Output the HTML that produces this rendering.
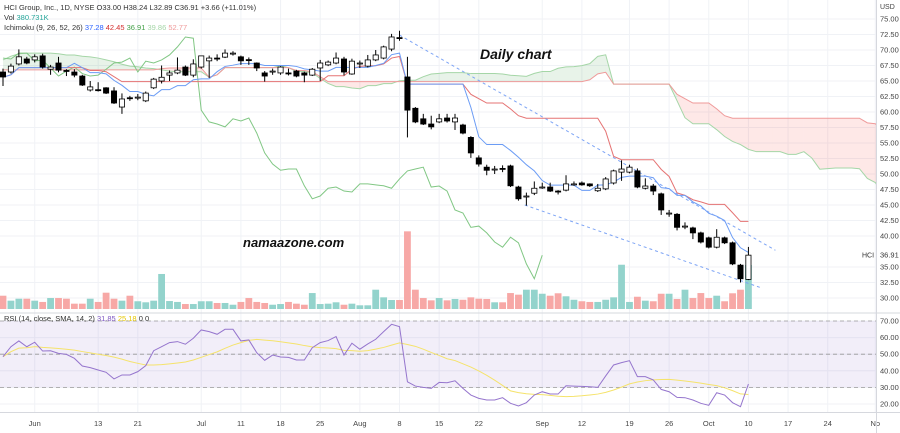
<!DOCTYPE html>
<html><head><meta charset="utf-8">
<style>
html,body{margin:0;padding:0;background:#fff;}
svg{display:block;font-family:"Liberation Sans",sans-serif;}
</style></head>
<body>
<svg id="chart" width="900" height="433" viewBox="0 0 900 433" xmlns="http://www.w3.org/2000/svg">
<defs><clipPath id="plotClip"><rect x="0" y="0" width="876" height="312"/></clipPath>
<clipPath id="rsiClip"><rect x="0" y="314" width="876" height="98"/></clipPath></defs>
<g id="grid"></g>
<g id="cloud" clip-path="url(#plotClip)"></g>
<g id="vol"></g>
<g id="lines" clip-path="url(#plotClip)"></g>
<g id="trend" clip-path="url(#plotClip)"></g>
<g id="candles"></g>
<g id="rsi" clip-path="url(#rsiClip)"></g>
<g id="axes"></g>
<text x="480" y="59" font-size="14" font-style="italic" font-weight="bold" fill="#111">Daily chart</text>
<text x="243" y="247" font-size="13" font-style="italic" font-weight="bold" fill="#111">namaazone.com</text>
<g font-size="7.5">
<text x="4" y="10" fill="#333">HCI Group, Inc., 1D, NYSE  O33.00  H38.24  L32.89  C36.91  +3.66 (+11.01%)</text>
<text x="4" y="20" fill="#333">Vol <tspan fill="#26a69a">380.731K</tspan></text>
<text x="4" y="30" fill="#333">Ichimoku (9, 26, 52, 26) <tspan fill="#2962ff">37.28</tspan> <tspan fill="#d32f2f">42.45</tspan> <tspan fill="#43a047">36.91</tspan> <tspan fill="#a5d6a7">39.86</tspan> <tspan fill="#ef9a9a">52.77</tspan></text>
<text x="4" y="321" fill="#333">RSI (14, close, SMA, 14, 2) <tspan fill="#7e57c2">31.85</tspan> <tspan fill="#e5c600">25.18</tspan> 0 0</text>
</g>
</svg>
<script>
const opens=[66.45,66.45,67.75,68.55,68.4,69.05,66.9,67.9,66.7,66.45,65.8,63.55,63.6,63.9,63.4,60.8,62.3,62.4,61.8,63.9,65,65.95,66.3,67.25,65.95,67.25,68.25,68.7,68.85,69.5,68.9,68.45,67.9,66.3,66.6,66.3,66.3,66.6,66.3,65.95,67.1,67.6,67.9,68.55,66.13,67.9,67.4,68.4,68.7,70.15,72,65.65,60.6,58.9,58.06,58.4,59.03,58.4,57.9,55.9,52.6,51.1,50.8,50.9,51.3,47.9,46.45,46.9,47.9,47.9,47.25,47.4,48.4,48.55,48.4,47.3,47.6,48.55,50.3,50.3,50.5,47.7,48.06,46.8,43.7,43.5,41.6,41.3,40.5,39.7,38.2,39.7,38.9,35.3,33.0];
const highs=[67,67.8,70.1,68.9,69.3,69.4,67.6,68.9,66.9,66.9,66.0,65.0,64.8,64.0,64.0,63.0,62.6,62.9,63.3,65.5,67.5,66.7,68.8,67.5,68.5,69.1,69.1,69.3,70.1,69.8,69.1,68.8,68.0,66.6,67,67.4,67.0,66.8,66.5,67.1,68.4,68.3,69.6,68.9,68.6,68.3,69.2,70.0,70.7,72.6,73.1,68.9,60.8,59.7,59.4,59.7,59.7,59.7,58.1,56.1,53.0,51.5,51.3,51.4,51.5,48.1,47.0,48.8,48.6,48.6,47.4,49.8,48.8,48.8,48.5,48.4,49.5,50.7,52.2,51.5,50.9,49.3,48.4,47.0,44.2,43.7,42.2,41.5,40.7,39.9,41.1,39.9,39.1,35.5,38.24];
const lows=[64.2,66.2,67.5,67.7,68.0,67,66.0,66.4,65.8,65.6,64.2,63.3,63.3,62.9,61.3,59.7,61.8,61.9,61.6,63.7,64.6,65.0,66.1,65.8,65.6,67.0,65.5,68.2,68.7,69.1,67.6,67.6,66.6,64.9,66,66.0,65.9,65.6,64.8,65.8,65.0,67.4,67.7,65.9,66,67.1,67.2,68.2,68.5,69.8,71.5,55.9,58.2,57.9,57.2,58.2,58.3,57.1,56.4,52.6,51.2,49.8,50.0,50.3,47.9,45.7,44.9,46.6,47.6,47.1,46.7,47.2,48.1,48.1,47.9,47.1,47.4,48.3,48.9,50.1,47.7,47.5,46.6,43.4,43.1,40.9,41.1,39.5,38.8,38.0,38.0,38.7,35.3,32.5,32.89];
const closes=[65.65,67.4,68.9,67.9,68.9,67.25,67.25,66.75,66.6,65.95,64.35,64.05,63.5,63.05,61.45,62.1,62.2,62.4,63.05,65.3,65.6,66.3,66.75,65.95,67.75,69.05,68.7,68.55,69.5,69.5,68.25,68.35,67.1,65.8,66.6,67.25,66.2,65.8,65.95,66.9,67.9,68.05,68.7,66.45,68.2,67.9,68.4,69.2,70.5,72.1,71.9,60.3,58.4,58.06,57.6,58.9,58.55,59.03,56.6,53.4,51.6,50.6,50.8,50.8,48.1,46.0,46.45,47.7,47.9,47.25,47.1,48.4,48.4,48.25,48.1,47.7,49.2,50.5,50.8,51.1,47.9,48.06,47.25,44.2,43.7,41.4,41.6,40.5,39.03,38.2,39.8,38.9,35.5,33.1,36.91];
const volumesK=[115,72,89,89,72,61,95,95,89,46,46,89,61,141,89,72,115,67,58,72,303,69,61,43,43,67,67,52,52,37,61,95,61,52,37,43,61,46,37,138,43,46,58,37,46,32,32,167,101,78,78,672,167,95,75,95,75,87,80,101,89,87,58,58,138,124,167,167,132,115,136,110,80,67,61,61,80,101,383,61,106,72,67,132,132,87,167,95,138,95,115,67,136,167,380.7];
const rsiVals=[48.5,54.5,58,54.5,57.2,51.9,52.1,50.5,49.9,47.5,42.9,41.9,40.5,39.1,35.1,37.5,37.5,39.5,43.1,52.1,54.5,57,57.6,56,59.6,64.6,63.6,62,65,65,58,58.6,50.9,46.3,49.5,48.3,48.1,46.5,46.5,53.9,57,58.2,60.6,49.5,56.6,53,56.2,59,63.6,68,66.6,33.4,30.8,30,29.4,33,32.8,34,29.4,25.4,23.4,22.4,22.4,23.8,20.4,18.8,20.8,25.4,27.4,26,26,31,30.8,30.6,30.4,30,36.9,43.5,44.9,46.1,36.5,36.5,34.5,28.8,27.4,24,23.8,22.4,20.4,19.2,26.8,25.4,20.8,18.4,32];
const earlySpanA=[68.4,69.0,69.4,69.5,69.5,69.5,69.5,69.4,69.2,69.2,69.0,68.9,68.7,68.4,68.1,67.7,67.4,67.3,67.1,67.0,66.8,66.6,66.5,66.5,66.5,66.5];
const earlySpanB=[66.8,66.8,66.8,66.8,66.8,66.8,66.8,66.8,66.8,66.8,66.8,66.8,66.8,66.8,66.8,66.8,66.8,66.8,66.8,66.8,67.0,67.1,67.1,67.1,67.1,67.1];
const priceTicks=[30,32.5,35,40,42.5,45,47.5,50,52.5,55,57.5,60,62.5,65,67.5,70,72.5,75];
const rsiTicks=[20,30,40,50,60,70];
const dateTickIdx=[4,12,17,25,30,35,40,45,50,55,60,68,73,79,84,89,94,99,104,110];
const dateTickLabels=["Jun","13","21","Jul","11","18","25","Aug","8","15","22","Sep","12","19","26","Oct","10","17","24","No"];
const trendUpper=[[50,72.4],[97.4,37.7]];
const trendLower=[[65.8,45.0],[95.7,31.6]];

const NS="http://www.w3.org/2000/svg";
const X=i=>3+i*7.93;
const YP=p=>19+(75-p)*6.2;
const YR=r=>321+(70-r)*1.66;
const YV=v=>309-v*(44/380.7);
function mk(tag,attrs,parent){const e=document.createElementNS(NS,tag);for(const k in attrs)e.setAttribute(k,attrs[k]);document.getElementById(parent).appendChild(e);return e;}
const N=closes.length;

priceTicks.forEach(p=>{const l=mk('line',{x1:0,x2:876,y1:YP(p),y2:YP(p),stroke:'#f0f2f6','stroke-width':1},'grid');


const t=mk('text',{x:880,y:YP(p)+2.5,'font-size':7.5,fill:'#444'},'axes');t.textContent=p.toFixed(2);

});
rsiTicks.forEach(r=>{const l=mk('line',{x1:0,x2:876,y1:YR(r),y2:YR(r),stroke:'#f0f2f6','stroke-width':1},'grid');


const t=mk('text',{x:880,y:YR(r)+2.5,'font-size':7.5,fill:'#444'},'axes');t.textContent=r.toFixed(2);

});
dateTickIdx.forEach((d,k)=>{const l=mk('line',{x1:X(d),x2:X(d),y1:0,y2:412,stroke:'#f0f2f6','stroke-width':1},'grid');


const t=mk('text',{x:X(d),y:426,'font-size':7.5,fill:'#444','text-anchor':'middle'},'axes');t.textContent=dateTickLabels[k];

});
let ax=mk('line',{x1:876.5,x2:876.5,y1:0,y2:433,stroke:'#d6d8de'},'axes');


ax=mk('line',{x1:0,x2:900,y1:313,y2:313,stroke:'#d6d8de'},'axes');


ax=mk('line',{x1:0,x2:900,y1:412.5,y2:412.5,stroke:'#d6d8de'},'axes');


let u=mk('text',{x:880,y:9,'font-size':7,fill:'#444'},'axes');u.textContent='USD';


u=mk('text',{x:862,y:YP(closes[N-1])+2.5,'font-size':7,fill:'#333'},'axes');u.textContent='HCI';


u=mk('text',{x:880,y:YP(closes[N-1])+2.5,'font-size':7.5,fill:'#333'},'axes');u.textContent=closes[N-1].toFixed(2);



function hl(a,b){let h=-1e9,l=1e9;for(let j=Math.max(0,a);j<=b;j++){h=Math.max(h,highs[j]);l=Math.min(l,lows[j]);}return (h+l)/2;}
const tenkan=[],kijun=[];
for(let i=0;i<N;i++){tenkan.push(hl(i-8,i));kijun.push(hl(i-25,i));}
const spanA=[],spanB=[];
for(let i=0;i<N+26;i++){if(i<26){spanA.push(earlySpanA[i]);spanB.push(earlySpanB[i]);}else{const t=i-26;spanA.push((tenkan[t]+kijun[t])/2);spanB.push(hl(t-51,t));}}
for(let i=0;i<spanA.length-1;i++){
 const up=spanA[i]>=spanB[i];
 const poly=mk('polygon',{points:`${X(i)},${YP(spanA[i])} ${X(i+1)},${YP(spanA[i+1])} ${X(i+1)},${YP(spanB[i+1])} ${X(i)},${YP(spanB[i])}`,fill:up?'rgba(67,160,71,0.12)':'rgba(244,67,54,0.12)'},'cloud');
 
 
}
function pl(vals,offset,color,name){let pts=[];vals.forEach((v,i)=>{const xi=i+offset;if(xi>=0)pts.push(X(xi)+','+YP(v));});
const p=mk('polyline',{points:pts.join(' '),fill:'none',stroke:color,'stroke-width':1},'lines');

}
pl(spanA,0,'#a5d6a7','senkou-span-a');
pl(spanB,0,'#ef9a9a','senkou-span-b');
pl(closes,-26,'#81c784','chikou-span');
pl(kijun,0,'#e57373','kijun-sen');
pl(tenkan,0,'#6b9cf5','tenkan-sen');

[trendUpper,trendLower].forEach((tl,k)=>{const l=mk('line',{x1:X(tl[0][0]),y1:YP(tl[0][1]),x2:X(tl[1][0]),y2:YP(tl[1][1]),stroke:'#7da4f5','stroke-width':1,'stroke-dasharray':'3,3'},'trend');

});

volumesK.forEach((v,i)=>{const up=closes[i]>=opens[i];const r=mk('rect',{x:X(i)-3.4,y:YV(v),width:6.8,height:309-YV(v),fill:up?'#93d3cc':'#f7a8a6'},'vol');

});

for(let i=0;i<N;i++){const up=closes[i]>=opens[i];const x=X(i);
const w=mk('line',{x1:x,x2:x,y1:YP(highs[i]),y2:YP(lows[i]),stroke:'#000','stroke-width':1},'candles');


const top=YP(Math.max(opens[i],closes[i])),bot=YP(Math.min(opens[i],closes[i]));
const b=mk('rect',{x:x-2.6,y:top,width:5.2,height:Math.max(1,bot-top),fill:up?'#fff':'#000',stroke:'#000','stroke-width':0.8},'candles');

}

const rsiMA=rsiVals.map((v,i)=>{let s=0,c=0;for(let j=Math.max(0,i-13);j<=i;j++){s+=rsiVals[j];c++;}return s/c;});
const band=mk('rect',{x:0,y:YR(70),width:876,height:YR(30)-YR(70),fill:'rgba(126,87,194,0.1)'},'rsi');


[70,50,30].forEach(r=>{const l=mk('line',{x1:0,x2:876,y1:YR(r),y2:YR(r),stroke:'#999','stroke-dasharray':'4,3','stroke-width':0.8},'rsi');

});
let rp=mk('polyline',{points:rsiMA.map((v,i)=>X(i)+','+YR(v)).join(' '),fill:'none',stroke:'#f5e36b','stroke-width':1},'rsi');


rp=mk('polyline',{points:rsiVals.map((v,i)=>X(i)+','+YR(v)).join(' '),fill:'none',stroke:'#9575cd','stroke-width':1},'rsi');


</script>
</body></html>
